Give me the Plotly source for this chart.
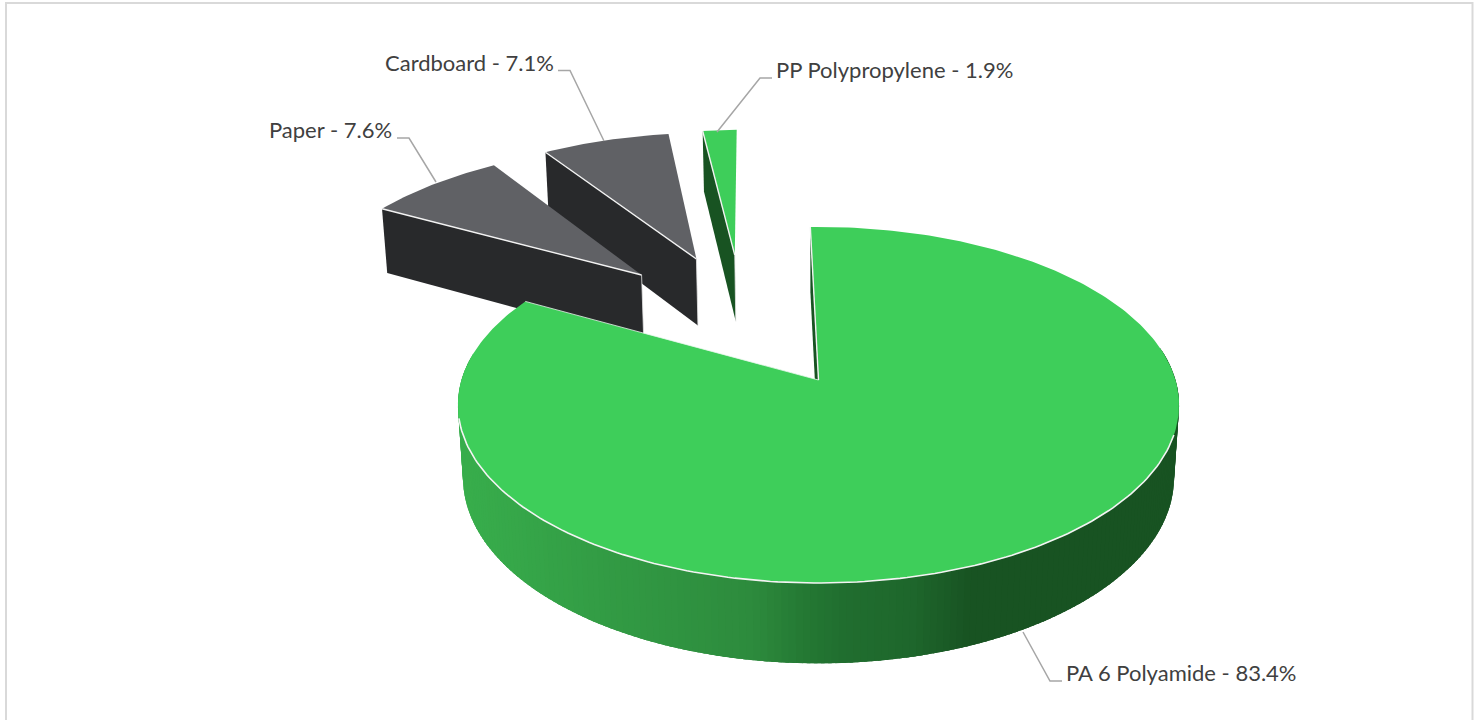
import math
import plotly.graph_objects as go

# ---- data (order: clockwise from the start angle) ----
categories = ["PA 6 Polyamide", "Paper", "Cardboard", "PP Polypropylene"]
shares = [83.4, 7.6, 7.1, 1.9]
top_colors = ["#3ECE5A", "#606165", "#606165", "#3ECE5A"]
cut_colors = ["#185322", "#28292B", "#28292B", "#185322"]
label_xy = [(1064, 672, "left"), (394, 129, "right"), (556, 62, "right"), (774, 69, "left")]
leaders = [
    [(1062, 681), (1050, 681), (1023, 632)],
    [(397, 138), (409, 138), (436, 182)],
    [(558, 70.5), (570, 70.5), (604, 141)],
    [(772, 78), (760, 78), (717, 132)],
]

# ---- view of the exploded 3-D pie ----
START_DEG = -1.5
EXPLODE = 0.43
X0, Y0 = 818.5, 380.0
RX, RY = 357.0, 174.5
PERSP = 0.1405
PERSP_Z = 0.014
DROP = 73.0

grad_x = [458, 600, 740, 790, 830, 900, 960, 2000]
grad_c = [(0x38, 0xAE, 0x4C), (0x32, 0x9B, 0x44), (0x2D, 0x8B, 0x3D), (0x25, 0x7A, 0x34),
          (0x20, 0x6E, 0x2F), (0x1E, 0x67, 0x2C), (0x18, 0x53, 0x22), (0x18, 0x53, 0x22)]


def project(u, v, z=0.0):
    w = 1 + PERSP * v + PERSP_Z * z
    return X0 + RX * u / w, Y0 + (-RY * v + DROP * z) / w


def direction(deg):
    r = math.radians(deg)
    return math.sin(r), math.cos(r)


def side_color(x):
    for i in range(len(grad_x) - 1):
        if x <= grad_x[i + 1]:
            f = max(0.0, (x - grad_x[i]) / (grad_x[i + 1] - grad_x[i]))
            c = [round(a + (b - a) * f) for a, b in zip(grad_c[i], grad_c[i + 1])]
            return "rgb(%d,%d,%d)" % tuple(c)
    return "rgb(24,83,34)"


def polygon(points, color, line=None, width=0.0):
    return go.Scatter(
        x=[p[0] for p in points] + [points[0][0]],
        y=[p[1] for p in points] + [points[0][1]],
        mode="lines", fill="toself", fillcolor=color,
        line=dict(color=line or color, width=width),
        hoverinfo="skip", showlegend=False,
    )


def stroke(points, color, width):
    return go.Scatter(
        x=[p[0] for p in points], y=[p[1] for p in points], mode="lines",
        line=dict(color=color, width=width), hoverinfo="skip", showlegend=False,
    )


# slice angles
angles = []
a = START_DEG
for s in shares:
    b = a + s / sum(shares) * 360
    angles.append((a, b))
    a = b

mu, mv = direction(sum(angles[0]) / 2)
cu, cv = -EXPLODE * mu, -EXPLODE * mv  # undisplaced pie centre, main apex = origin

fig = go.Figure()

# painter's order: back to front
for i in (3, 2, 1, 0):
    t0, t1 = angles[i]
    du, dv = direction((t0 + t1) / 2)
    au, av = cu + EXPLODE * du, cv + EXPLODE * dv
    n = max(4, int(t1 - t0))
    step = (t1 - t0) / n
    arc = [t0 + step * j for j in range(n + 1)]
    pt = lambda t, z=0.0: project(au + direction(t)[0], av + direction(t)[1], z)

    # cut face along the slice's first radius
    fig.add_trace(polygon([project(au, av), pt(t0), pt(t0, 1), project(au, av, 1)],
                          cut_colors[i]))
    # outer wall, front-facing part only; each strip overlaps the one before it
    for j in range(n):
        ta, tb = arc[j], arc[j + 1]
        if direction((ta + tb) / 2)[1] < 0.16:
            back = ta - 1.5 * step
            quad = [pt(back), pt(ta), pt(tb), pt(tb, 1), pt(ta, 1), pt(back, 1)]
            xm = (pt(ta)[0] + pt(tb)[0] + pt(ta, 1)[0] + pt(tb, 1)[0]) / 4
            fig.add_trace(polygon(quad, side_color(xm)))
    # top face
    top = [project(au, av)] + [pt(t) for t in arc]
    fig.add_trace(polygon(top, top_colors[i]))
    # light edges
    fig.add_trace(stroke([pt(t0), project(au, av)], "#F2F2F2", 1.4))
    if i == 0:
        fig.add_trace(stroke([pt(t) for t in arc if 107 <= t <= 258], "#F4F4F4", 1.6))
        fig.add_trace(stroke([project(au, av), pt(t1)], "#E8F8EC", 0.8))
    else:
        fig.add_trace(stroke([project(au, av, 0), project(au, av, 1)], "#E4E4E4", 0.8))

# leader lines and labels
for pts in leaders:
    fig.add_trace(stroke(pts, "#A6A6A6", 1.5))

annotations = []
for name, share, (x, y, anchor) in zip(categories, shares, label_xy):
    annotations.append(dict(
        x=x, y=y, xref="x", yref="y", text=f"{name} - {share}%", showarrow=False,
        xanchor=anchor, yanchor="middle", font=dict(family="Lato", size=22, color="#404040"),
    ))

fig.update_layout(
    width=1478, height=720, margin=dict(l=0, r=0, t=0, b=0),
    paper_bgcolor="white", plot_bgcolor="white", showlegend=False,
    xaxis=dict(range=[0, 1478], visible=False, fixedrange=True),
    yaxis=dict(range=[720, 0], visible=False, fixedrange=True),
    annotations=annotations,
    shapes=[dict(type="rect", xref="x", yref="y", x0=6, y0=3, x1=1472.5, y1=760,
                 line=dict(color="#D9D9D9", width=2), layer="below")],
)
fig.write_html("out.html", config={"displayModeBar": False},
               post_script="document.body.style.margin='0';document.body.style.overflow='hidden';")
